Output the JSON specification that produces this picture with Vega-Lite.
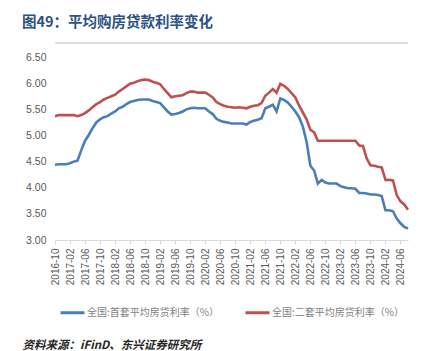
{
  "$schema": "https://vega.github.io/schema/vega-lite/v6.json",
  "width": 353,
  "height": 197,
  "autosize": {"type": "none"},
  "padding": {"left": 55, "top": 43, "right": 20, "bottom": 111},
  "background": "white",
  "config": {"view": {"stroke": null}, "font": "Liberation Sans"},
  "title": {
    "text": "图49：平均购房贷款利率变化",
    "anchor": "start",
    "frame": "group",
    "dx": -33,
    "offset": 12,
    "font": "Noto Sans CJK SC",
    "fontSize": 14.5,
    "fontWeight": "bold",
    "color": "#2E5283"
  },
  "data": {
    "values": [
      {"d": "2016-10", "a": 4.44, "b": 5.37},
      {"d": "2016-11", "a": 4.45, "b": 5.39},
      {"d": "2016-12", "a": 4.45, "b": 5.39},
      {"d": "2017-01", "a": 4.45, "b": 5.39},
      {"d": "2017-02", "a": 4.47, "b": 5.39},
      {"d": "2017-03", "a": 4.50, "b": 5.39},
      {"d": "2017-04", "a": 4.52, "b": 5.37},
      {"d": "2017-05", "a": 4.72, "b": 5.39},
      {"d": "2017-06", "a": 4.90, "b": 5.43},
      {"d": "2017-07", "a": 5.01, "b": 5.48},
      {"d": "2017-08", "a": 5.14, "b": 5.54},
      {"d": "2017-09", "a": 5.25, "b": 5.60},
      {"d": "2017-10", "a": 5.31, "b": 5.64},
      {"d": "2017-11", "a": 5.35, "b": 5.69},
      {"d": "2017-12", "a": 5.37, "b": 5.72},
      {"d": "2018-01", "a": 5.42, "b": 5.75},
      {"d": "2018-02", "a": 5.46, "b": 5.78},
      {"d": "2018-03", "a": 5.52, "b": 5.84},
      {"d": "2018-04", "a": 5.55, "b": 5.89},
      {"d": "2018-05", "a": 5.60, "b": 5.94},
      {"d": "2018-06", "a": 5.64, "b": 5.99},
      {"d": "2018-07", "a": 5.66, "b": 6.01},
      {"d": "2018-08", "a": 5.68, "b": 6.04},
      {"d": "2018-09", "a": 5.69, "b": 6.06},
      {"d": "2018-10", "a": 5.69, "b": 6.07},
      {"d": "2018-11", "a": 5.69, "b": 6.06},
      {"d": "2018-12", "a": 5.66, "b": 6.03},
      {"d": "2019-01", "a": 5.64, "b": 6.01},
      {"d": "2019-02", "a": 5.62, "b": 5.98},
      {"d": "2019-03", "a": 5.54, "b": 5.89},
      {"d": "2019-04", "a": 5.46, "b": 5.81},
      {"d": "2019-05", "a": 5.40, "b": 5.73},
      {"d": "2019-06", "a": 5.41, "b": 5.75},
      {"d": "2019-07", "a": 5.43, "b": 5.76},
      {"d": "2019-08", "a": 5.46, "b": 5.77},
      {"d": "2019-09", "a": 5.50, "b": 5.81},
      {"d": "2019-10", "a": 5.52, "b": 5.84},
      {"d": "2019-11", "a": 5.53, "b": 5.84},
      {"d": "2019-12", "a": 5.52, "b": 5.82},
      {"d": "2020-01", "a": 5.52, "b": 5.82},
      {"d": "2020-02", "a": 5.52, "b": 5.82},
      {"d": "2020-03", "a": 5.46, "b": 5.78},
      {"d": "2020-04", "a": 5.41, "b": 5.73},
      {"d": "2020-05", "a": 5.32, "b": 5.64},
      {"d": "2020-06", "a": 5.28, "b": 5.60},
      {"d": "2020-07", "a": 5.26, "b": 5.57},
      {"d": "2020-08", "a": 5.25, "b": 5.55},
      {"d": "2020-09", "a": 5.23, "b": 5.54},
      {"d": "2020-10", "a": 5.23, "b": 5.53},
      {"d": "2020-11", "a": 5.23, "b": 5.54},
      {"d": "2020-12", "a": 5.23, "b": 5.53},
      {"d": "2021-01", "a": 5.21, "b": 5.52},
      {"d": "2021-02", "a": 5.26, "b": 5.55},
      {"d": "2021-03", "a": 5.28, "b": 5.57},
      {"d": "2021-04", "a": 5.30, "b": 5.58},
      {"d": "2021-05", "a": 5.33, "b": 5.62},
      {"d": "2021-06", "a": 5.52, "b": 5.76},
      {"d": "2021-07", "a": 5.55, "b": 5.82},
      {"d": "2021-08", "a": 5.59, "b": 5.89},
      {"d": "2021-09", "a": 5.46, "b": 5.82},
      {"d": "2021-10", "a": 5.71, "b": 5.99},
      {"d": "2021-11", "a": 5.68, "b": 5.95},
      {"d": "2021-12", "a": 5.63, "b": 5.89},
      {"d": "2022-01", "a": 5.55, "b": 5.81},
      {"d": "2022-02", "a": 5.46, "b": 5.73},
      {"d": "2022-03", "a": 5.35, "b": 5.57},
      {"d": "2022-04", "a": 5.17, "b": 5.44},
      {"d": "2022-05", "a": 4.88, "b": 5.31},
      {"d": "2022-06", "a": 4.42, "b": 5.11},
      {"d": "2022-07", "a": 4.33, "b": 5.06},
      {"d": "2022-08", "a": 4.08, "b": 4.90},
      {"d": "2022-09", "a": 4.15, "b": 4.90},
      {"d": "2022-10", "a": 4.10, "b": 4.90},
      {"d": "2022-11", "a": 4.08, "b": 4.90},
      {"d": "2022-12", "a": 4.08, "b": 4.90},
      {"d": "2023-01", "a": 4.08, "b": 4.90},
      {"d": "2023-02", "a": 4.03, "b": 4.90},
      {"d": "2023-03", "a": 4.01, "b": 4.90},
      {"d": "2023-04", "a": 3.99, "b": 4.90},
      {"d": "2023-05", "a": 3.99, "b": 4.90},
      {"d": "2023-06", "a": 3.98, "b": 4.90},
      {"d": "2023-07", "a": 3.90, "b": 4.81},
      {"d": "2023-08", "a": 3.90, "b": 4.80},
      {"d": "2023-09", "a": 3.89, "b": 4.56},
      {"d": "2023-10", "a": 3.87, "b": 4.43},
      {"d": "2023-11", "a": 3.87, "b": 4.42},
      {"d": "2023-12", "a": 3.86, "b": 4.40},
      {"d": "2024-01", "a": 3.84, "b": 4.39},
      {"d": "2024-02", "a": 3.57, "b": 4.15},
      {"d": "2024-03", "a": 3.57, "b": 4.15},
      {"d": "2024-04", "a": 3.55, "b": 4.14},
      {"d": "2024-05", "a": 3.41, "b": 3.86},
      {"d": "2024-06", "a": 3.32, "b": 3.74},
      {"d": "2024-07", "a": 3.25, "b": 3.68},
      {"d": "2024-08", "a": 3.22, "b": 3.58}
    ]
  },
  "layer": [
    {
      "data": {"values": [{}]},
      "mark": {"type": "rule", "color": "#BFBFBF", "strokeWidth": 1},
      "encoding": {
        "y": {
          "datum": 6.77,
          "type": "quantitative",
          "scale": {"domain": [3, 6.77], "nice": false, "zero": false},
          "axis": {
            "values": [3, 3.5, 4, 4.5, 5, 5.5, 6, 6.5],
            "format": ".2f",
            "labelFontSize": 10.5,
            "labelColor": "#595959",
            "labelPadding": 9,
            "labelOverlap": false,
            "ticks": false,
            "domain": false,
            "gridColor": "#D9D9D9",
            "title": null
          }
        }
      }
    },
    {
      "transform": [{"fold": ["a", "b"], "as": ["k", "v"]}],
      "mark": {"type": "line", "strokeWidth": 2.6, "interpolate": "linear"},
      "encoding": {
        "x": {
          "field": "d",
          "type": "ordinal",
          "sort": null,
          "scale": {"type": "point", "padding": 0},
          "axis": {
            "values": ["2016-10","2017-02","2017-06","2017-10","2018-02","2018-06","2018-10","2019-02","2019-06","2019-10","2020-02","2020-06","2020-10","2021-02","2021-06","2021-10","2022-02","2022-06","2022-10","2023-02","2023-06","2023-10","2024-02","2024-06"],
            "labelAngle": -90,
            "labelFontSize": 10,
            "labelColor": "#595959",
            "labelPadding": 4,
            "tickSize": 4,
            "tickColor": "#D9D9D9",
            "domainColor": "#D9D9D9",
            "grid": false,
            "title": "资料来源：iFinD、东兴证券研究所",
            "titleX": -33,
            "titleY": 110,
            "titleAlign": "left",
            "titleBaseline": "bottom",
            "titleFont": "Noto Sans CJK SC",
            "titleFontSize": 11.5,
            "titleFontStyle": "italic",
            "titleFontWeight": "bold",
            "titleColor": "#262626"
          }
        },
        "y": {
          "field": "v",
          "type": "quantitative",
          "scale": {"domain": [3, 6.77], "nice": false, "zero": false},
          "axis": {
            "values": [3, 3.5, 4, 4.5, 5, 5.5, 6, 6.5],
            "format": ".2f",
            "labelFontSize": 10.5,
            "labelColor": "#595959",
            "labelPadding": 9,
            "labelOverlap": false,
            "ticks": false,
            "domain": false,
            "gridColor": "#D9D9D9",
            "title": null
          }
        },
        "color": {
          "field": "k",
          "type": "nominal",
          "scale": {"domain": ["a", "b"], "range": ["#4A7EBB", "#C0504D"]},
          "legend": {
            "title": null,
            "orient": "none",
            "legendX": 4,
            "legendY": 256,
            "direction": "horizontal",
            "symbolType": "stroke",
            "symbolSize": 576,
            "symbolStrokeWidth": 3,
            "labelExpr": "datum.value == 'a' ? '全国:首套平均房贷利率（%）' : '全国:二套平均房贷利率（%）'",
            "labelFont": "Noto Sans CJK SC",
            "labelFontSize": 10,
            "labelColor": "#7F7F7F",
            "labelOffset": 1,
            "columnPadding": 20
          }
        }
      }
    }
  ]
}
